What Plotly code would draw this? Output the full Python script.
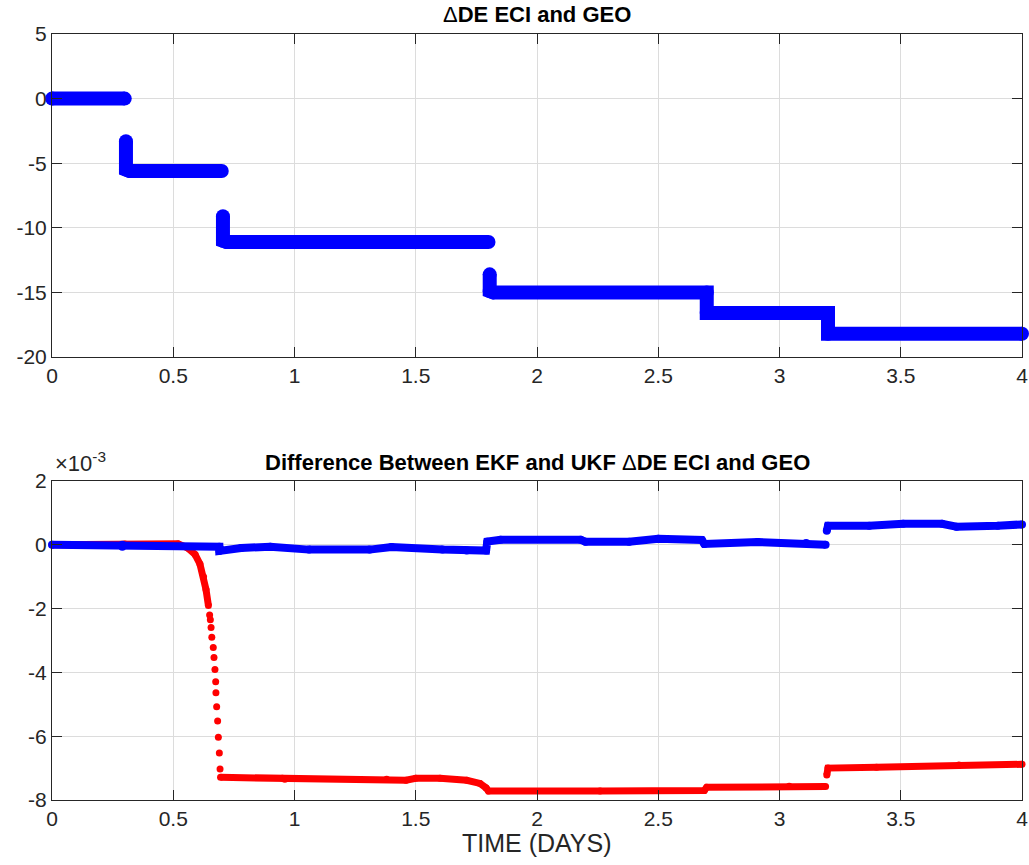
import plotly.graph_objects as go
from plotly.subplots import make_subplots

# ---------------- data ----------------
# Top panel: Delta DE ECI and GEO (step series)
top_t = [0.0, 0.30, None,
         0.305, 0.305, 0.32, 0.70, None,
         0.705, 0.705, 0.72, 1.80, None,
         1.805, 1.805, 1.82, 2.70, 2.70, 3.20, 3.20, 4.00]
top_v = [0.0, 0.0, None,
         -3.3, -5.5, -5.6, -5.6, None,
         -9.1, -11.0, -11.1, -11.1, None,
         -13.6, -14.9, -15.0, -15.0, -16.6, -16.6, -18.2, -18.2]

# Bottom panel (units of 1e-3): EKF-UKF difference
blue_t = [0.0, 0.29, 0.29, 0.69, 0.69, 0.78, 0.90, 1.06, 1.31, 1.40, 1.61, 1.71, 1.79,
          1.795, 1.85, 2.18, 2.20, 2.38, 2.50, 2.68, 2.69, 2.91, 3.11, 3.19, None,
          3.195, 3.20, 3.37, 3.51, 3.67, 3.73, 3.90, 4.00]
blue_v = [0.0, 0.0, -0.06, -0.06, -0.19, -0.10, -0.06, -0.15, -0.15, -0.07, -0.15, -0.18, -0.18,
          0.10, 0.16, 0.16, 0.10, 0.10, 0.19, 0.15, 0.03, 0.09, 0.06, 0.0, None,
          0.44, 0.60, 0.60, 0.66, 0.66, 0.57, 0.60, 0.64]

red_t = [0.0, 0.30, 0.52, 0.56, 0.59, 0.61, 0.625, 0.635, 0.645, None,
         0.695, 0.95, 0.96, 1.38, 1.46, 1.50, 1.60, 1.71, 1.765, 1.79, 1.80, 2.26, 2.69, 2.70,
         3.04, 3.19, None,
         3.195, 3.20, 3.40, 3.74, 4.00]
red_v = [0.0, 0.03, 0.03, -0.10, -0.30, -0.60, -1.00, -1.40, -1.90, None,
         -7.29, -7.32, -7.35, -7.35, -7.38, -7.32, -7.32, -7.38, -7.48, -7.62, -7.72, -7.72, -7.70, -7.60,
         -7.57, -7.58, None,
         -7.22, -7.00, -6.97, -6.90, -6.88]

# Discrete samples along the steep drop
drop_t = [0.650, 0.653, 0.656, 0.659, 0.665, 0.668, 0.672, 0.675, 0.676, 0.679,
          0.683, 0.686, 0.690, 0.693]
drop_v = [-2.2, -2.35, -2.59, -2.90, -3.22, -3.53, -3.91, -4.29, -4.64, -5.08,
          -5.52, -6.03, -6.53, -7.03]

x_ticks = [0, 0.5, 1, 1.5, 2, 2.5, 3, 3.5, 4]
x_labels = ["0", "0.5", "1", "1.5", "2", "2.5", "3", "3.5", "4"]
top_y_ticks = [5, 0, -5, -10, -15, -20]
top_y_labels = ["5", "0", "-5", "-10", "-15", "-20"]
bot_y_ticks = [2, 0, -2, -4, -6, -8]
bot_y_labels = ["2", "0", "-2", "-4", "-6", "-8"]

# ---------------- figure ----------------
BLUE = "#0000ff"
RED = "#ff0000"
AX = "#262626"
GRID = "#dcdcdc"
FONT = "Liberation Sans, Arial, Helvetica, sans-serif"

fig = make_subplots(rows=2, cols=1, shared_xaxes=False, vertical_spacing=0.1)

fig.add_trace(go.Scatter(x=top_t, y=top_v, mode="lines+markers",
                         line=dict(color=BLUE, width=14),
                         marker=dict(color=BLUE, size=14),
                         cliponaxis=False, connectgaps=False, showlegend=False),
              row=1, col=1)

fig.add_trace(go.Scatter(x=red_t, y=red_v, mode="lines+markers",
                         line=dict(color=RED, width=7),
                         marker=dict(color=RED, size=7),
                         cliponaxis=False, connectgaps=False, showlegend=False),
              row=2, col=1)
fig.add_trace(go.Scatter(x=drop_t, y=drop_v, mode="markers",
                         marker=dict(color=RED, size=7),
                         cliponaxis=False, showlegend=False),
              row=2, col=1)
fig.add_trace(go.Scatter(x=blue_t, y=blue_v, mode="lines+markers",
                         line=dict(color=BLUE, width=8),
                         marker=dict(color=BLUE, size=8),
                         cliponaxis=False, connectgaps=False, showlegend=False),
              row=2, col=1)

axis_common = dict(showline=True, linecolor=AX, linewidth=1, mirror="ticks",
                   ticks="inside", ticklen=10, tickcolor=AX, tickwidth=1,
                   showgrid=True, gridcolor=GRID, gridwidth=1, zeroline=False,
                   automargin=False,
                   tickfont=dict(family=FONT, size=21, color=AX))

fig.update_xaxes(range=[0, 4], tickvals=x_ticks, ticktext=x_labels, domain=[0, 1],
                 **axis_common)
fig.update_yaxes(**axis_common)
fig.update_yaxes(range=[-20, 5], tickvals=top_y_ticks, ticktext=top_y_labels,
                 domain=[0.5783, 1.0], row=1, col=1)
fig.update_yaxes(range=[-8, 2], tickvals=bot_y_ticks, ticktext=bot_y_labels,
                 domain=[0.0, 0.4164], row=2, col=1)

fig.update_layout(
    width=1029, height=865,
    margin=dict(l=52, r=7, t=34, b=65, autoexpand=False),
    paper_bgcolor="white", plot_bgcolor="white",
    font=dict(family=FONT, color=AX),
    annotations=[
        dict(text="Δ<b>DE ECI and GEO</b>", xref="paper", yref="paper",
             x=0.5, y=1.026, xanchor="center", yanchor="middle", showarrow=False,
             font=dict(family=FONT, size=22, color="black")),
        dict(text="<b>Difference Between EKF and UKF </b>Δ<b>DE ECI and GEO</b>",
             xref="paper", yref="paper", x=0.5, y=0.441, xanchor="center",
             yanchor="middle", showarrow=False,
             font=dict(family=FONT, size=22, color="black")),
        dict(text="×10<sup>-3</sup>", xref="paper", yref="paper", x=0.001, y=0.421,
             xanchor="left", yanchor="bottom", showarrow=False,
             font=dict(family=FONT, size=22, color=AX)),
        dict(text="TIME (DAYS)", xref="paper", yref="paper", x=0.5, y=-0.056,
             xanchor="center", yanchor="middle", showarrow=False,
             font=dict(family=FONT, size=25, color=AX)),
    ],
)

fig.write_html(
    "out.html",
    config={"displayModeBar": False},
    post_script="document.body.style.margin='0';document.body.style.padding='0';"
                "document.documentElement.style.overflow='hidden';"
                "document.body.style.overflow='hidden';",
)
